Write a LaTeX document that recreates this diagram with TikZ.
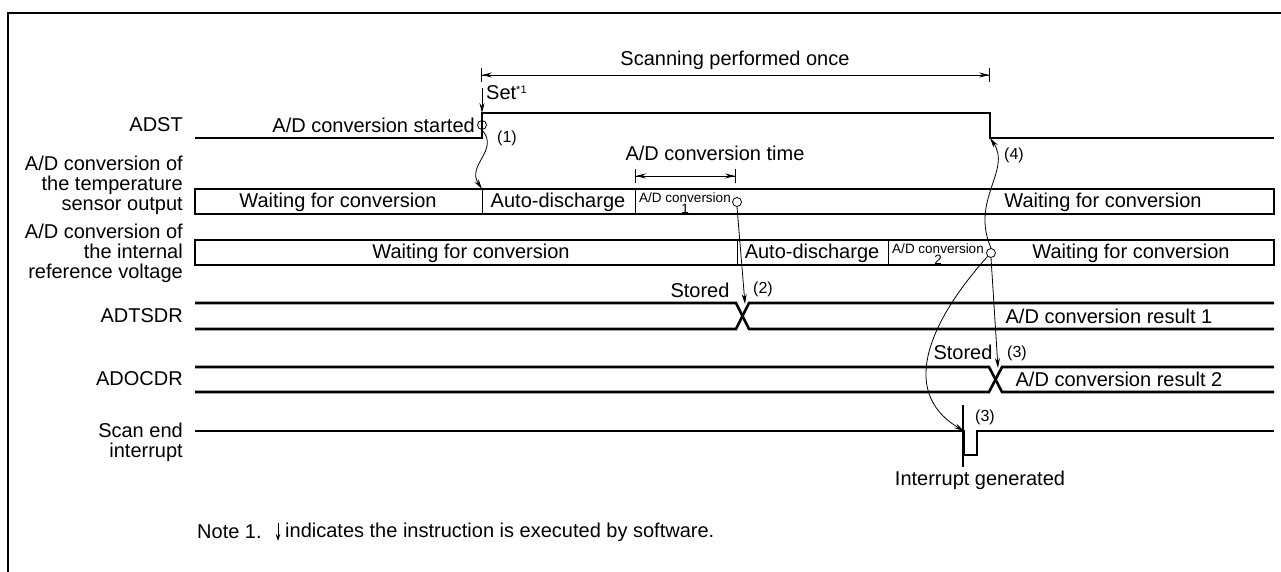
\documentclass[tikz,border=0pt]{standalone}
\usepackage{fontspec}
\setmainfont{Liberation Sans}
\usetikzlibrary{arrows.meta,positioning}
\tikzset{
  frame/.style={line width=2.8pt},
  sig/.style={line width=2.6pt},
  cellsep/.style={line width=0.9pt},
  tickline/.style={line width=1.2pt},
  lbl/.style={anchor=east, align=right, inner sep=0pt, font=\fontsize{20}{20}\selectfont},
  txt/.style={inner sep=0pt, font=\fontsize{20}{20}\selectfont},
  tinytxt/.style={inner sep=0pt, align=center, font=\fontsize{13.5}{11}\selectfont},
  num/.style={inner sep=0pt, font=\fontsize{16}{16}\selectfont},
  ring/.style={circle, draw, line width=0.8pt, inner sep=0pt, minimum size=9pt},
  flow/.style={line width=0.8pt, -{Stealth[length=10pt,width=5pt]}},
  span/.style={line width=0.8pt, {Bar[width=14pt]Stealth[length=10pt,width=5pt]}-{Stealth[length=10pt,width=5pt]Bar[width=14pt]}},
}
\begin{document}
\begin{tikzpicture}[x=1pt,y=-1pt]
\useasboundingbox (0,0) rectangle (1281,572);
\draw[frame] (8,572) -- (8,13) -- (1281,13);

\coordinate (arise) at (482,138);
\coordinate (ahigh) at (482,113);
\coordinate (afall) at (990,113);
\coordinate (alow) at (990,138);
\coordinate (settop) at (482,88);
\coordinate (scanl) at (481,75);
\coordinate (scanr) at (990,75);
\coordinate (convl) at (635,176);
\coordinate (convr) at (736,176);
\coordinate (t1) at (482,189);
\coordinate (x1) at (745,304);
\coordinate (x2) at (998,368);
\coordinate (pulse) at (964,431);

\node[txt] (scan) at (735,60) {Scanning performed once};
\draw[span] (scanl) -- (scanr);
\node[txt, anchor=west] (set) at (486,93) {Set\raisebox{6pt}{\fontsize{11}{11}\selectfont *1}};
\draw[flow] (settop) -- (ahigh);

\node[lbl] (adst) at (183,125) {ADST};
\draw[sig] (195,138) -- (arise) -- (ahigh) -- (afall) -- (alow) -- (1274,138);
\node[txt, anchor=east] (started) at (475,125) {A/D conversion started};
\node[ring] (st) at (482,125) {};
\node[num] (n1) at (507,138) {(1)};

\node[txt] (convt) at (715,153) {A/D conversion time};
\draw[span] (convl) -- (convr);

\node[lbl] (tsens) at (183,185) {A/D conversion of\\the temperature\\sensor output};
\draw[sig] (195,189) rectangle (1274,214);
\draw[cellsep] (t1) -- (482,214);
\draw[cellsep] (635,189) -- (635,214);
\node[txt] (tw1) at (338,202) {Waiting for conversion};
\node[txt] (tad) at (558,202) {Auto-discharge};
\node[tinytxt] (tc1) at (685,203) {A/D conversion\\1};
\node[ring] (c1) at (737,202) {};
\node[txt] (tw2) at (1103,202) {Waiting for conversion};

\node[lbl] (iref) at (183,253) {A/D conversion of\\the internal\\reference voltage};
\draw[sig] (195,240) rectangle (1274,265);
\draw[cellsep] (737,240) -- (737,265);
\draw[cellsep] (888,240) -- (888,265);
\node[txt] (iw1) at (471,253) {Waiting for conversion};
\node[txt] (iad) at (812,253) {Auto-discharge};
\node[tinytxt] (ic2) at (938,254) {A/D conversion\\2};
\node[ring] (c2) at (991,253) {};
\node[txt] (iw2) at (1131,253) {Waiting for conversion};

\node[lbl] (adtsdr) at (183,316) {ADTSDR};
\draw[sig] (195,303) -- (736,303) -- (749,329) -- (1274,329);
\draw[sig] (195,329) -- (736,329) -- (749,303) -- (1274,303);
\node[txt] (st1) at (700,290) {Stored};
\node[num] (n2) at (763,289) {(2)};
\node[txt] (res1) at (1109,316) {A/D conversion result 1};

\node[lbl] (adocdr) at (183,379) {ADOCDR};
\draw[sig] (195,367) -- (989,367) -- (1002,392) -- (1274,392);
\draw[sig] (195,392) -- (989,392) -- (1002,367) -- (1274,367);
\node[txt] (st2) at (963,352) {Stored};
\node[num] (n3a) at (1017,353) {(3)};
\node[txt] (res2) at (1119,379) {A/D conversion result 2};

\node[lbl] (scanend) at (183,442) {Scan end\\interrupt};
\draw[sig] (195,431) -- (pulse) -- (964,455) -- (977,455) -- (977,431) -- (1274,431);
\draw[tickline] (963,405) -- (963,467);
\node[num] (n3b) at (985,417) {(3)};
\node[txt] (intgen) at (980,480) {Interrupt generated};
\node[num] (n4) at (1014,155) {(4)};

\draw[flow] (st.south) .. controls (500,150) and (466,165) .. (t1);
\draw[flow] (c1.south) -- (x1);
\draw[flow] (c2.south) -- (x2);
\draw[flow] (c2.south west) .. controls (935,315) and (895,390) .. (pulse);
\draw[flow] (c2.north) .. controls (970,200) and (1012,170) .. (alow);

\node[txt, anchor=west] (note) at (197,532) {Note 1.};
\coordinate (nt) at (278,523);
\coordinate (nb) at (278,541);
\draw[line width=0.8pt, -{Stealth[length=7pt,width=4.5pt]}] (nt) -- (nb);
\node[txt, anchor=west] (notetxt) at (285,532) {indicates the instruction is executed by software.};
\end{tikzpicture}
\end{document}
